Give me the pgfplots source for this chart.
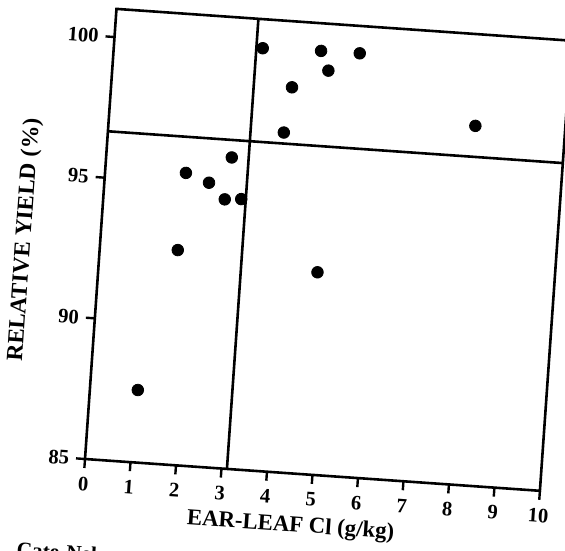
\documentclass[border=0pt]{standalone}
\usepackage{pgfplots}
\pgfplotsset{compat=1.18}
\usepackage{fontspec}
\setmainfont{Liberation Serif}
\begin{document}
\begin{tikzpicture}
\useasboundingbox (0,0) rectangle (282.5pt,275pt);
\begin{scope}[transform canvas={rotate around={-4:(42.5pt,45.5pt)}}]
\begin{axis}[
  at={(42.5pt,45.5pt)}, anchor=south west,
  scale only axis, width=228pt, height=225.6pt,
  xmin=0, xmax=10, ymin=85, ymax=101,
  xtick={0,1,2,3,4,5,6,7,8,9,10},
  ytick={85,90,95,100},
  tick align=outside, xtick pos=bottom, ytick pos=left,
  major tick length=4.5pt,
  axis line style={line width=1.3pt},
  every tick/.style={black, line width=1.2pt},
  tick label style={font=\bfseries\fontsize{10.3}{12}\selectfont},
  xticklabel style={inner sep=4.3pt},
  yticklabel style={inner sep=3.3pt},
  /pgf/number format/assume math mode=true,
  clip=false,
  xlabel={EAR-LEAF Cl (g/kg)},
  ylabel={RELATIVE YIELD (\%)},
  xlabel style={font=\bfseries\fontsize{11.4}{14}\selectfont, inner sep=1pt, at={(axis description cs:0.46,-0.117)}, anchor=center},
  ylabel style={font=\bfseries\fontsize{11.6}{14}\selectfont, at={(axis description cs:-0.165,0.475)}, anchor=center},
]
\addplot[black, line width=1.3pt] coordinates {(0,96.65) (10,96.65)};
\addplot[black, line width=1.3pt] coordinates {(3.12,85) (3.12,101)};
\addplot[only marks, mark=*, mark size=2.9pt, black] coordinates {
(1.05,87.57) (1.71,92.62) (1.77,95.37) (2.29,95.08) (2.66,94.53)
(3.02,94.58) (2.75,96.03) (3.26,99.97) (3.85,97.04) (3.96,98.66)
(4.54,100.02) (4.73,99.34) (5.39,100.03) (4.80,92.18) (8.03,97.75)
};
\node[anchor=north west, inner sep=0pt, font=\bfseries\fontsize{10.6}{13}\selectfont] at (rel axis cs:-0.136,-0.192) {Cate-Nelson};
\end{axis}
\end{scope}
\end{tikzpicture}
\end{document}
